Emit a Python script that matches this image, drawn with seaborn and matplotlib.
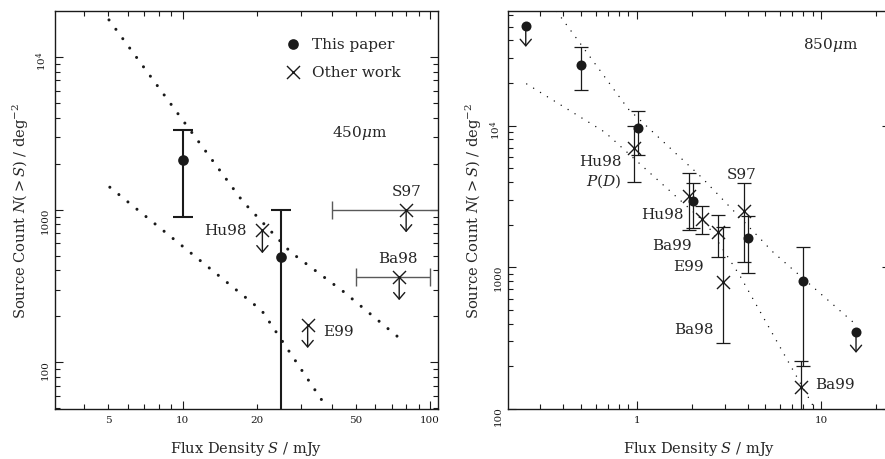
import numpy as np
import matplotlib
matplotlib.use("Agg")
import matplotlib.pyplot as plt
from matplotlib.ticker import LogLocator, FixedLocator, FuncFormatter, NullFormatter
import seaborn as sns

# ---- 450 micron data ----
paper450_flux = [10, 25]
paper450_count = [2100, 490]
paper450_low = [900, 1]
paper450_high = [3300, 1000]

other450_name = ["Hu98", "S97", "Ba98", "E99"]
other450_flux = [21, 80, 75, 32]
other450_count = [730, 1000, 360, 175]
other450_flux_low = [np.nan, 40, 50, np.nan]
other450_flux_high = [np.nan, 160, 100, np.nan]

model450_a_flux = [5.04, 10, 17.5, 27.3, 44.6, 78.5]
model450_a_count = [17400, 3850, 1130, 527, 291, 136]
model450_b_flux = [5.08, 10, 20.9, 36.8]
model450_b_count = [1400, 575, 218, 55.6]

# ---- 850 micron data ----
paper850_flux = [0.25, 0.5, 1.02, 2.03, 4.0, 8.0, 15.5]
paper850_count = [50700, 26900, 9570, 2925, 1600, 804, 351]
paper850_low = [np.nan, 17800, 6210, 1885, 907, 202, np.nan]
paper850_high = [np.nan, 36100, 12700, 3920, 2310, 1397, np.nan]
paper850_limit = [True, False, False, False, False, False, True]

other850_name = ["Hu98\n$P(D)$", "Hu98", "Ba99", "E99", "Ba98", "S97", "Ba99"]
other850_flux = [0.97, 1.93, 2.27, 2.77, 2.95, 3.82, 7.76]
other850_count = [6950, 3200, 2190, 1766, 791, 2510, 142]
other850_low = [3980, 1830, 1718, 1188, 291, 1096, 10]
other850_high = [10000, 4600, 2690, 2340, 1915, 3920, 219]

model850_a_flux = [0.368, 0.9, 2.25, 5.51, 14.96]
model850_a_count = [64100, 13100, 4315, 1276, 410]
model850_b_flux = [0.253, 0.673, 1.284, 2.4, 3.63, 9.08]
model850_b_count = [19700, 8980, 4200, 2020, 873, 105]

# label placement (offset points from the marker, ha)
LABELS_450 = [(-11, 0, "right"), (0, 13.7, "center"), (-1, 14, "center"), (11.5, -4, "left")]
LABELS_850 = [(-9, -17, "right"), (-4.3, -13.2, "right"), (-7.6, -18.7, "right"),
              (-10.3, -24, "right"), (-6.7, -34, "right"), (-2, 26.4, "center"), (10.8, 2.4, "left")]

ARROW_DROP = 0.71
TEXT_SIZE = 11
LABEL_SIZE = 10.5
TICK_SIZE = 7.5

sns.set_theme(style="ticks")
plt.rcParams["font.family"] = ["DejaVu Serif"]
plt.rcParams["mathtext.fontset"] = "dejavuserif"
plt.rcParams["axes.linewidth"] = 1.0


def style_axes(ax):
    ax.set_xscale("log")
    ax.set_yscale("log")
    ax.tick_params(which="both", direction="in", top=True, right=True, width=0.8, colors="k")
    ax.tick_params(which="major", length=6, labelsize=TICK_SIZE, pad=4)
    ax.tick_params(which="minor", length=3.5)
    ax.yaxis.set_major_locator(FixedLocator([100, 1000, 10000]))
    ax.yaxis.set_major_formatter(FuncFormatter(lambda v, _: {100: "100", 1000: "1000", 10000: "$10^4$"}.get(int(round(v)), "")))
    ax.yaxis.set_minor_locator(LogLocator(base=10, subs=np.arange(2, 10), numticks=50))
    ax.yaxis.set_minor_formatter(NullFormatter())
    ax.tick_params(axis="y", labelrotation=90)
    for s in ax.spines.values():
        s.set_color("k")
    ax.set_xlabel(r"Flux Density $S$ / mJy", fontsize=LABEL_SIZE, labelpad=11)
    ax.set_ylabel(r"Source Count $N(>S)$ / deg$^{-2}$", fontsize=LABEL_SIZE, labelpad=3)


def draw_limits(ax, xs, ys):
    for xi, yi in zip(xs, ys):
        ax.annotate("", xy=(xi, yi * ARROW_DROP), xytext=(xi, yi),
                    arrowprops=dict(arrowstyle="->,head_length=0.47,head_width=0.4",
                                    lw=1.0, color="k", shrinkA=0, shrinkB=0,
                                    mutation_scale=10))


fig = plt.figure(figsize=(8.85, 4.6), dpi=100)

# =========================
# 450 micron
# =========================
ax1 = fig.add_axes([55 / 885, 50 / 460, 383 / 885, 398 / 460])
style_axes(ax1)
ax1.set_xlim(3.05, 107.6)
ax1.set_ylim(49.6, 19900)
ax1.xaxis.set_major_locator(FixedLocator([10, 100]))
ax1.xaxis.set_major_formatter(FuncFormatter(lambda v, _: f"{v:g}"))
ax1.xaxis.set_minor_locator(LogLocator(base=10, subs=np.arange(2, 10), numticks=50))
ax1.xaxis.set_minor_formatter(FuncFormatter(
    lambda v, _: f"{v:g}" if any(abs(v - t) < 1e-6 * t for t in (5, 20, 50)) else ""))
ax1.tick_params(which="minor", labelsize=TICK_SIZE, pad=4)

dots_big = dict(color="k", lw=2.2, linestyle=(0, (0.01, 3.8)), dash_capstyle="round")
sns.lineplot(x=model450_a_flux, y=model450_a_count, ax=ax1, sort=False, estimator=None, **dots_big)
sns.lineplot(x=model450_b_flux, y=model450_b_count, ax=ax1, sort=False, estimator=None, **dots_big)

p450 = np.array(paper450_count)
ax1.errorbar(paper450_flux, p450,
             yerr=[p450 - np.array(paper450_low), np.array(paper450_high) - p450],
             fmt="none", ecolor="k", elinewidth=1.5, capsize=7, capthick=1.5, zorder=2)
o450 = np.array(other450_flux, dtype=float)
ax1.errorbar(o450, other450_count,
             xerr=[o450 - np.array(other450_flux_low), np.array(other450_flux_high) - o450],
             fmt="none", ecolor="0.35", elinewidth=1.0, capsize=6.5, capthick=1.0, zorder=2)

sns.scatterplot(x=paper450_flux, y=paper450_count, ax=ax1, marker="o", s=59,
                color="k", linewidth=0, label="This paper", zorder=3)
sns.scatterplot(x=other450_flux, y=other450_count, ax=ax1, marker="x", s=88,
                color="k", linewidth=1.0, label="Other work", zorder=3)
draw_limits(ax1, other450_flux, other450_count)

for name, xi, yi, (dx, dy, ha) in zip(other450_name, other450_flux, other450_count, LABELS_450):
    ax1.annotate(name, xy=(xi, yi), xytext=(dx, dy), textcoords="offset points",
                 ha=ha, va="center", fontsize=TEXT_SIZE)

ax1.text(0.796, 0.696, r"450$\mu$m", transform=ax1.transAxes, ha="center", va="center", fontsize=TEXT_SIZE)
ax1.legend(loc="upper left", bbox_to_anchor=(0.6005, 0.935), frameon=False, fontsize=TEXT_SIZE,
           borderpad=0, borderaxespad=0, handlelength=1.0, handletextpad=0.8, labelspacing=0.9)

# =========================
# 850 micron
# =========================
ax2 = fig.add_axes([508.3 / 885, 50 / 460, 381.7 / 885, 398.3 / 460])
style_axes(ax2)
ax2.set_xlim(0.201, 23.7)
ax2.set_ylim(100, 64800)
ax2.xaxis.set_major_locator(FixedLocator([1, 10]))
ax2.xaxis.set_major_formatter(FuncFormatter(lambda v, _: f"{v:g}"))
ax2.xaxis.set_minor_locator(LogLocator(base=10, subs=np.arange(2, 10), numticks=50))
ax2.xaxis.set_minor_formatter(NullFormatter())

dots_small = dict(color="k", lw=1.1, linestyle=(0, (0.01, 5.3)), dash_capstyle="round")
sns.lineplot(x=model850_a_flux, y=model850_a_count, ax=ax2, sort=False, estimator=None, **dots_small)
sns.lineplot(x=model850_b_flux, y=model850_b_count, ax=ax2, sort=False, estimator=None, **dots_small)

p850 = np.array(paper850_count, dtype=float)
ax2.errorbar(paper850_flux, p850,
             yerr=[p850 - np.array(paper850_low), np.array(paper850_high) - p850],
             fmt="none", ecolor="k", elinewidth=0.9, capsize=4.7, capthick=0.9, zorder=2)
o850 = np.array(other850_count, dtype=float)
ax2.errorbar(other850_flux, o850,
             yerr=[o850 - np.array(other850_low), np.array(other850_high) - o850],
             fmt="none", ecolor="k", elinewidth=0.9, capsize=4.7, capthick=0.9, zorder=2)

sns.scatterplot(x=paper850_flux, y=paper850_count, ax=ax2, marker="o", s=52,
                color="k", linewidth=0, zorder=3)
sns.scatterplot(x=other850_flux, y=other850_count, ax=ax2, marker="x", s=88,
                color="k", linewidth=1.0, zorder=3)
draw_limits(ax2, [f for f, l in zip(paper850_flux, paper850_limit) if l],
            [c for c, l in zip(paper850_count, paper850_limit) if l])

for name, xi, yi, (dx, dy, ha) in zip(other850_name, other850_flux, other850_count, LABELS_850):
    ax2.annotate(name, xy=(xi, yi), xytext=(dx, dy), textcoords="offset points",
                 ha=ha, va="center", fontsize=TEXT_SIZE, linespacing=1.2, multialignment="right")

ax2.text(0.845, 0.916, r"850$\mu$m", transform=ax2.transAxes, ha="center", va="center", fontsize=TEXT_SIZE)
if ax2.get_legend() is not None:
    ax2.get_legend().remove()

fig.savefig("out.png", dpi=100)
